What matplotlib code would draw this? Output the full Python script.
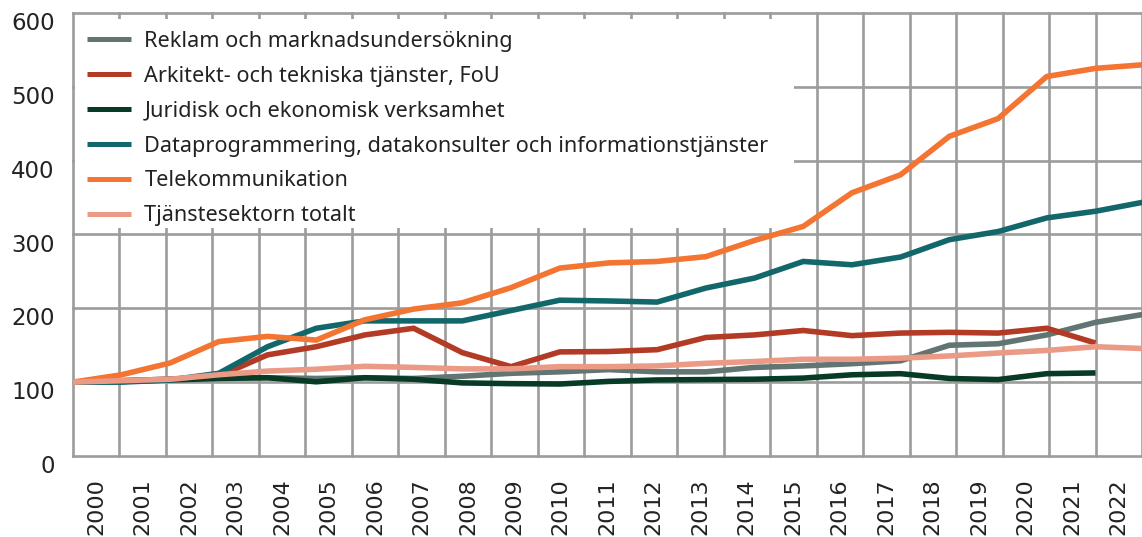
import matplotlib
matplotlib.use("Agg")
import matplotlib.pyplot as plt
import matplotlib.transforms as mtransforms
from matplotlib.patches import Rectangle
import numpy as np

years = [str(y) for y in range(2000, 2023)]

reklam = [100, 102, 104, 106, 106, 105, 106, 105, 108, 112, 114, 117, 114, 114,
          120, 122, 125, 129, 150, 152, 164, 181, 192]
arkitekt = [100, 102, 104, 108, 137, 148, 164, 173, 140, 121, 141, 141.5, 144,
            160.5, 164, 170, 163, 166.5, 167.5, 166.5, 173, 153, np.nan]
juridisk = [100, 101, 103, 105, 106, 100.5, 106, 104, 99, 98, 97.5, 101, 103,
            103.5, 104, 105.5, 110, 111.5, 105, 103.5, 111.5, 112.5, np.nan]
dataprog = [100, 100, 103, 112, 148, 173, 183, 183, 183, 197, 211, 210, 208.5,
            227.5, 241, 263.5, 259, 269.5, 293, 304, 322.5, 331.5, 344]
telekom = [100, 110, 126, 155, 162, 157, 184.5, 199, 207.5, 228, 254.5, 261.5,
           263.5, 270, 292, 311, 356.5, 381, 433, 457, 514, 525, 530]
totalt = [100, 102, 104, 110, 115, 117.5, 121.5, 120, 118, 118, 121, 121, 122,
          125.5, 128, 131, 131, 132.5, 135.5, 139.5, 143, 148, 145.5]

labels = [
    "Reklam och marknadsundersökning",
    "Arkitekt- och tekniska tjänster, FoU",
    "Juridisk och ekonomisk verksamhet",
    "Dataprogrammering, datakonsulter och informationstjänster",
    "Telekommunikation",
    "Tjänstesektorn totalt",
]
colors = ["#627572", "#b33a24", "#073b25", "#12676b", "#f47432", "#eb9a85"]
series = [reklam, arkitekt, juridisk, dataprog, telekom, totalt]

W, H = 1142, 537
fig = plt.figure(figsize=(W / 100, H / 100), dpi=100)
ax = fig.add_axes([72.7 / W, (H - 456) / H, 1 - 72.7 / W, (456 - 13) / H])

n = len(years)
# the lines run a little wider than the year bands in the original
x = np.arange(n) * 22 / 21

for vals, lab, col in zip(series, labels, colors):
    ax.plot(x, vals, color=col, lw=4, label=lab, solid_capstyle="butt",
            solid_joinstyle="miter", zorder=3)

ax.set_xlim(0, (W - 72.7) / 46.78)
ax.set_ylim(0, 600)
ax.set_yticks(range(0, 601, 100))
ax.set_xticks(range(0, n + 1))
ax.set_xticklabels([])
ax.set_xticks(np.arange(n) + 0.5, minor=True)
ax.set_xticklabels(years, minor=True, rotation=90)
ax.tick_params(axis="both", which="both", length=0, labelsize=16,
               labelcolor="#222222")
ax.tick_params(axis="y", labelsize=16.5, pad=13)
ax.tick_params(axis="x", which="minor", pad=16)
ax.grid(True, which="major", color="#9c9c9c", lw=1.9)
ax.set_axisbelow(True)
for gl in ax.get_xgridlines() + ax.get_ygridlines():
    gl.set_clip_on(False)
for s in ax.spines.values():
    s.set_visible(False)

off = mtransforms.ScaledTranslation(0, -8 / 100, fig.dpi_scale_trans)
for t in ax.get_yticklabels():
    t.set_transform(t.get_transform() + off)

# white box behind the legend hides the grid
box = Rectangle(((75 - 72.7) / (W - 72.7), (456 - 228) / 443),
                (794 - 75) / (W - 72.7), (228 - 19) / 443,
                transform=ax.transAxes, facecolor="white", edgecolor="none",
                zorder=1)
ax.add_patch(box)

leg = ax.legend(loc="upper left", bbox_to_anchor=((87 - 72.7) / (W - 72.7), (456 - 31) / 443),
                frameon=False, handlelength=2.03, handletextpad=0.62,
                labelspacing=0.64, borderpad=0, borderaxespad=0,
                prop={"family": "Noto Sans", "size": 15.6})
for line in leg.get_lines():
    line.set_linewidth(3.6)
for t in leg.get_texts():
    t.set_color("#222222")

fig.savefig("out.png", dpi=100)
